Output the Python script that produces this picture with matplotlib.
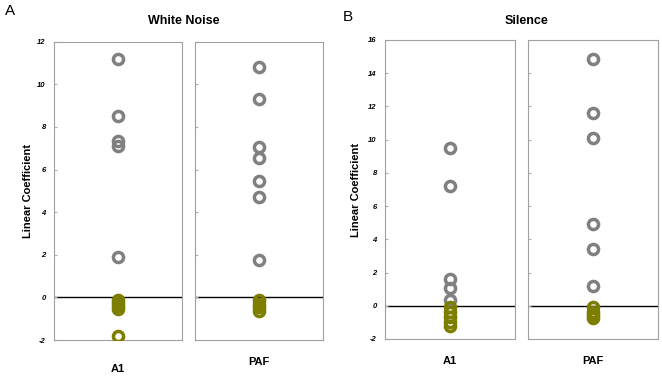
import matplotlib
matplotlib.use("Agg")
import matplotlib.pyplot as plt
from matplotlib import rcParams

rcParams.update({"font.family": ["Liberation Sans", "DejaVu Sans"]})

# values (positive = grey, negative = olive)
wn_a1_pos = [11.2, 8.5, 7.35, 7.1, 1.9]
wn_a1_neg = [-0.1, -0.25, -0.4, -0.55, -1.8]
wn_paf_pos = [10.8, 9.3, 7.05, 6.55, 5.45, 4.7, 1.75]
wn_paf_neg = [-0.1, -0.3, -0.45, -0.65]

si_a1_pos = [9.5, 7.2, 1.6, 1.1, 0.35]
si_a1_neg = [-0.1, -0.4, -0.7, -1.0, -1.2]
si_paf_pos = [14.85, 11.6, 10.1, 4.9, 3.4, 1.2]
si_paf_neg = [-0.1, -0.35, -0.55, -0.75]

wn_ticks = [-2, 0, 2, 4, 6, 8, 10, 12]
si_ticks = [-2, 0, 2, 4, 6, 8, 10, 12, 14, 16]

grey = "#808080"
olive = "#7d7d00"

fig = plt.figure(figsize=(6.62, 3.77), dpi=100)

# axes boxes in figure fractions
boxes = {
    "wn_a1": [0.0816, 0.0981, 0.1934, 0.7912],
    "wn_paf": [0.2946, 0.0981, 0.1934, 0.7912],
    "si_a1": [0.5816, 0.1008, 0.1964, 0.7931],
    "si_paf": [0.7976, 0.1008, 0.1964, 0.7931],
}

# key, grey pts, olive pts, x label, ylim, ticks, first panel?, x label pad, y label pad
panels = [
    ("wn_a1", wn_a1_pos, wn_a1_neg, "A1", (-2, 12), wn_ticks, True, 17, 3),
    ("wn_paf", wn_paf_pos, wn_paf_neg, "PAF", (-2, 12), wn_ticks, False, 12, 0),
    ("si_a1", si_a1_pos, si_a1_neg, "A1", (-2, 16), si_ticks, True, 12, 5),
    ("si_paf", si_paf_pos, si_paf_neg, "PAF", (-2, 16), si_ticks, False, 12, 0),
]

for key, pos, neg, name, ylim, ticks, first, pad, lpad in panels:
    ax = fig.add_axes(boxes[key])
    ax.axhline(0, color="black", lw=1.0, zorder=1)
    ax.plot([0] * len(pos), pos, "o", ms=7.3, mew=2.5, mfc="none", mec=grey, zorder=2)
    ax.plot([0] * len(neg), neg, "o", ms=7.3, mew=2.5, mfc="none", mec=olive, zorder=3)
    ax.set_xlim(-1, 1)
    ax.set_ylim(*ylim)
    ax.set_xticks([0])
    ax.set_xticklabels([name], fontsize=8, fontweight="bold")
    ax.tick_params(axis="x", length=0, pad=pad)
    ax.set_yticks(ticks)
    ax.tick_params(axis="y", direction="in", length=2, color="#b0b0b0", pad=6)
    if first:
        ax.set_yticklabels(ticks, fontsize=5.5, fontweight="bold", fontstyle="italic")
        ax.set_ylabel("Linear Coefficient", fontsize=8, fontweight="bold", labelpad=lpad)
    else:
        ax.set_yticklabels([])
    for s in ax.spines.values():
        s.set_color("#a0a0a0")
        s.set_linewidth(0.8)

fig.text(0.277, 0.945, "White Noise", ha="center", va="center", fontsize=9, fontweight="bold")
fig.text(0.796, 0.945, "Silence", ha="center", va="center", fontsize=9, fontweight="bold")
fig.text(0.008, 0.972, "A", ha="left", va="center", fontsize=11)
fig.text(0.518, 0.955, "B", ha="left", va="center", fontsize=11)

fig.savefig("out.png", dpi=100)
